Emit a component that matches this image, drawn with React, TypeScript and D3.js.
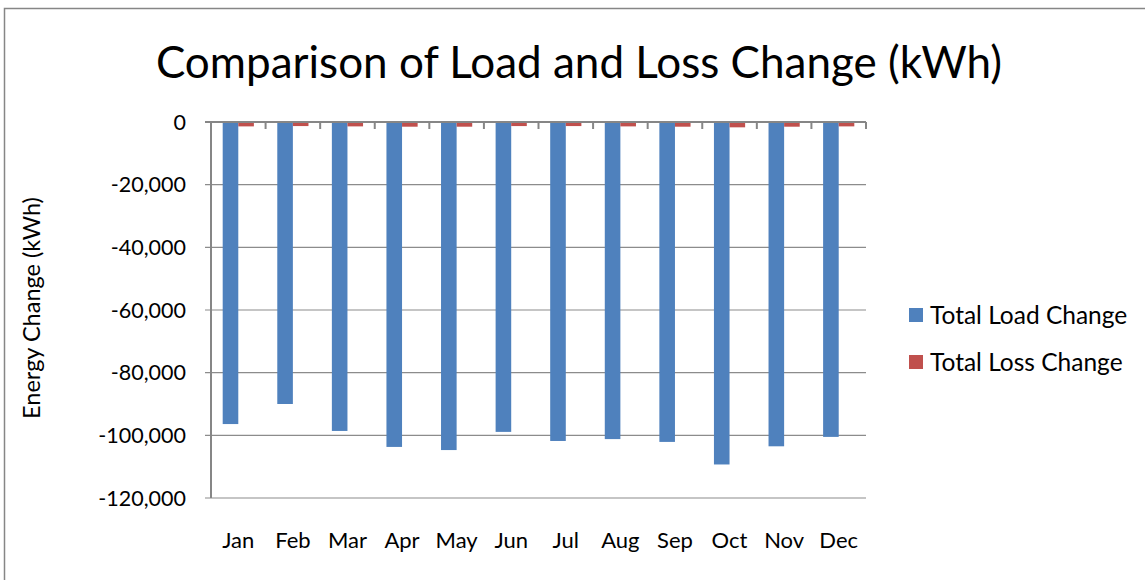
import React, { useRef, useEffect } from "react";
import * as d3 from "d3";

const months = ["Jan", "Feb", "Mar", "Apr", "May", "Jun", "Jul", "Aug", "Sep", "Oct", "Nov", "Dec"];
const loadChange = [-96400, -90000, -98600, -103700, -104700, -98900, -101800, -101200, -102100, -109300, -103500, -100500];
const lossChange = [-1400, -1300, -1400, -1500, -1500, -1300, -1300, -1400, -1500, -1700, -1500, -1400];
const seriesNames = ["Total Load Change", "Total Loss Change"];
const seriesColors = ["#4F81BD", "#C0504D"];
const yTicks = [0, -20000, -40000, -60000, -80000, -100000, -120000];

const FONT = "Lato, 'Open Sans', sans-serif";

export default function App() {
  const ref = useRef<SVGSVGElement>(null);

  useEffect(() => {
    const svg = d3.select(ref.current);
    svg.selectAll("*").remove();

    const width = 1145;
    const height = 580;
    const left = 211, right = 866, top = 122, bottom = 498;

    svg.attr("width", width).attr("height", height);

    // outer chart border
    svg.append("rect")
      .attr("x", 4.5).attr("y", 8.5)
      .attr("width", 1200).attr("height", 700)
      .attr("fill", "white")
      .attr("stroke", "#868686")
      .attr("stroke-width", 1.5);

    // gap width 150% like excel: 2 bars + 1.5 bar gap per category
    const x = d3.scaleBand().domain(months).range([left, right]).paddingInner(1.5 / 3.5).paddingOuter(0.75 / 3.5);
    const xOuter = d3.scaleBand().domain(months).range([left, right]);
    const y = d3.scaleLinear().domain([0, -120000]).range([top, bottom]);
    const xs = d3.scaleBand().domain(["0", "1"]).range([0, x.bandwidth()]);

    // gridlines
    svg.append("g")
      .selectAll("line")
      .data(yTicks.filter(d => d !== 0))
      .enter()
      .append("line")
      .attr("x1", left - 6).attr("x2", right)
      .attr("y1", d => y(d)).attr("y2", d => y(d))
      .attr("stroke", "#8c8c8c")
      .attr("stroke-width", 1.2);

    // bars
    const series = [loadChange, lossChange];
    series.forEach((vals, si) => {
      svg.append("g")
        .selectAll("rect")
        .data(vals)
        .enter()
        .append("rect")
        .attr("x", (d, i) => (x(months[i]) as number) + (xs(String(si)) as number))
        .attr("width", xs.bandwidth())
        .attr("y", y(0))
        .attr("height", d => y(d) - y(0))
        .attr("fill", seriesColors[si]);
    });

    // y axis
    svg.append("line")
      .attr("x1", left).attr("x2", left)
      .attr("y1", top).attr("y2", bottom)
      .attr("stroke", "#868686").attr("stroke-width", 2);

    // zero (category) axis
    svg.append("line")
      .attr("x1", left - 6).attr("x2", right)
      .attr("y1", y(0)).attr("y2", y(0))
      .attr("stroke", "#868686").attr("stroke-width", 2);

    // category tick marks
    const catTicks = months.map(m => xOuter(m) as number).concat([right]);
    svg.append("g")
      .selectAll("line")
      .data(catTicks)
      .enter()
      .append("line")
      .attr("x1", d => d).attr("x2", d => d)
      .attr("y1", y(0)).attr("y2", y(0) + 7)
      .attr("stroke", "#868686").attr("stroke-width", 2);

    // y tick labels (plain hyphen like excel)
    const fmt = (d: number) => d3.format(",")(d).replace("\u2212", "-");
    svg.append("g")
      .selectAll("text")
      .data(yTicks)
      .enter()
      .append("text")
      .attr("x", left - 25)
      .attr("y", d => y(d))
      .attr("dy", "0.35em")
      .attr("text-anchor", "end")
      .style("font-family", FONT)
      .style("font-size", "21.5px")
      .attr("fill", "#000")
      .text(d => fmt(d));

    // x labels
    svg.append("g")
      .selectAll("text")
      .data(months)
      .enter()
      .append("text")
      .attr("x", d => (xOuter(d) as number) + xOuter.bandwidth() / 2)
      .attr("y", 548)
      .attr("text-anchor", "middle")
      .style("font-family", FONT)
      .style("font-size", "22px")
      .attr("fill", "#000")
      .text(d => d);

    // y axis title
    svg.append("text")
      .attr("transform", "translate(40,308) rotate(-90)")
      .attr("text-anchor", "middle")
      .style("font-family", FONT)
      .style("font-size", "23.5px")
      .attr("fill", "#000")
      .text("Energy Change (kWh)");

    // title
    svg.append("text")
      .attr("x", 579)
      .attr("y", 78)
      .attr("text-anchor", "middle")
      .style("font-family", FONT)
      .style("font-size", "44px")
      .attr("fill", "#000")
      .text("Comparison of Load and Loss Change (kWh)");

    // legend
    const legend = svg.append("g")
      .selectAll("g")
      .data(seriesNames)
      .enter()
      .append("g")
      .attr("transform", (d, i) => `translate(909, ${315 + i * 47})`);
    legend.append("rect")
      .attr("x", 0).attr("y", -7)
      .attr("width", 14).attr("height", 14)
      .attr("fill", (d, i) => seriesColors[i]);
    legend.append("text")
      .attr("x", 21).attr("y", 0)
      .attr("dy", "0.35em")
      .style("font-family", FONT)
      .style("font-size", "24.5px")
      .attr("fill", "#000")
      .text(d => d);
  }, []);

  return <svg ref={ref} style={{ position: "absolute", left: 0, top: 0 }} />;
}
